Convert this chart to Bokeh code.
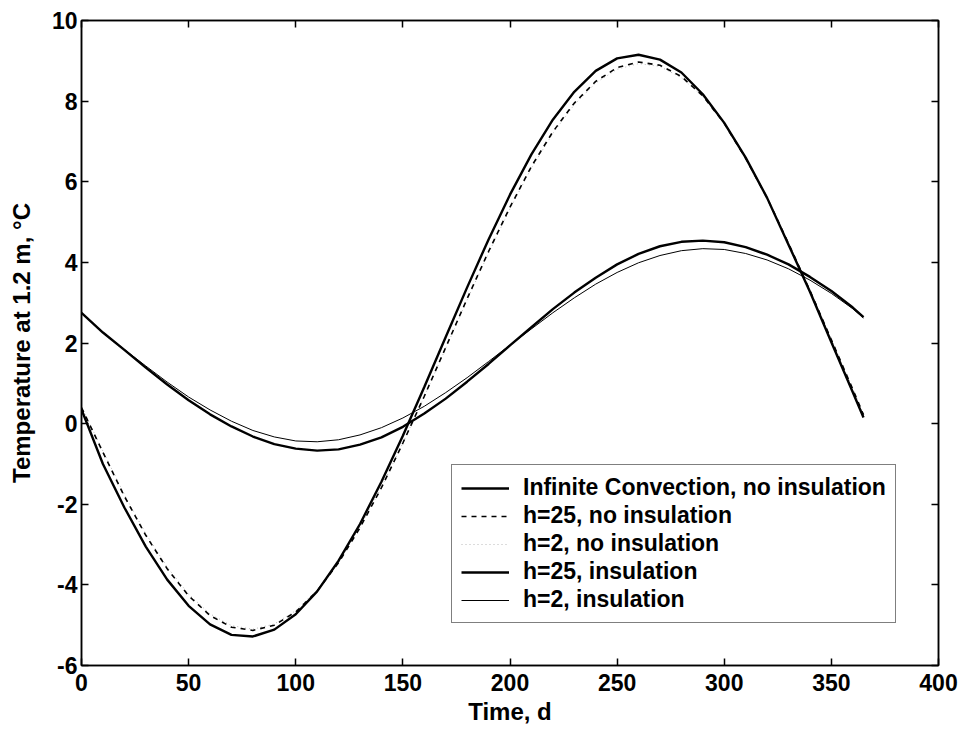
from bokeh.plotting import figure
from bokeh.models import LinearAxis, FixedTicker, Legend, LegendItem, Range1d
from bokeh.embed import file_html
from bokeh.resources import INLINE

# ---- data ----
days = [0, 10, 20, 30, 40, 50, 60, 70, 80, 90, 100, 110, 120, 130, 140, 150,
        160, 170, 180, 190, 200, 210, 220, 230, 240, 250, 260, 270, 280, 290,
        300, 310, 320, 330, 340, 350, 360, 365]

inf_conv_no_ins = [0.35, -1.00, -2.08, -3.05, -3.87, -4.52, -4.98, -5.24, -5.28,
                   -5.11, -4.73, -4.16, -3.40, -2.49, -1.44, -0.30, 0.91, 2.15,
                   3.38, 4.57, 5.68, 6.68, 7.54, 8.23, 8.75, 9.06, 9.15, 9.03,
                   8.71, 8.17, 7.46, 6.60, 5.60, 4.44, 3.27, 2.02, 0.78, 0.15]
h25_no_ins = [0.40, -0.71, -1.80, -2.77, -3.60, -4.27, -4.76, -5.05, -5.13,
              -5.00, -4.67, -4.15, -3.45, -2.58, -1.59, -0.48, 0.68, 1.89,
              3.10, 4.27, 5.37, 6.38, 7.24, 7.95, 8.49, 8.83, 8.97, 8.89,
              8.61, 8.13, 7.45, 6.58, 5.60, 4.47, 3.30, 2.08, 0.85, 0.22]
h2_no_ins = [0.42, -0.68, -1.76, -2.73, -3.56, -4.23, -4.72, -5.01, -5.10,
             -4.97, -4.64, -4.12, -3.43, -2.57, -1.58, -0.48, 0.67, 1.87,
             3.07, 4.23, 5.33, 6.34, 7.20, 7.91, 8.45, 8.79, 8.93, 8.86,
             8.58, 8.11, 7.44, 6.58, 5.60, 4.48, 3.31, 2.10, 0.87, 0.24]
h25_ins = [2.75, 2.26, 1.83, 1.39, 0.97, 0.58, 0.23, -0.07, -0.32, -0.51,
           -0.62, -0.67, -0.64, -0.52, -0.34, -0.08, 0.25, 0.62, 1.04, 1.48,
           1.94, 2.39, 2.84, 3.25, 3.62, 3.95, 4.21, 4.40, 4.51, 4.54, 4.50,
           4.38, 4.19, 3.95, 3.64, 3.29, 2.88, 2.64]
h2_ins = [2.75, 2.26, 1.84, 1.43, 1.03, 0.66, 0.34, 0.06, -0.17, -0.33,
          -0.43, -0.45, -0.40, -0.28, -0.10, 0.14, 0.43, 0.77, 1.14, 1.54,
          1.95, 2.35, 2.75, 3.12, 3.46, 3.75, 3.99, 4.17, 4.29, 4.34, 4.32,
          4.22, 4.06, 3.84, 3.56, 3.23, 2.85, 2.62]

series_labels = ["Infinite Convection, no insulation", "h=25, no insulation",
                 "h=2, no insulation", "h=25, insulation", "h=2, insulation"]

x_ticks = [0, 50, 100, 150, 200, 250, 300, 350, 400]
y_ticks = [-6, -4, -2, 0, 2, 4, 6, 8, 10]
y_tick_labels = ["-6", "-4", "-2", "0", "2", "4", "6", "8", "10"]

FONT = "Liberation Sans"

p = figure(width=963, height=736, output_backend="svg", toolbar_location=None,
           x_range=Range1d(0, 400), y_range=Range1d(-6, 10),
           min_border_left=81, min_border_right=25, min_border_top=20,
           min_border_bottom=71, x_axis_location=None, y_axis_location=None)
p.grid.visible = False
p.outline_line_color = "black"
p.outline_line_width = 1.5
p.background_fill_color = "white"
p.border_fill_color = "white"


def style_axis(ax, labels=True):
    ax.axis_line_color = "black"
    ax.axis_line_width = 1.5
    ax.major_tick_in = 7
    ax.major_tick_out = 0
    ax.major_tick_line_width = 1.5
    ax.minor_tick_line_color = None
    if labels:
        ax.major_label_text_font = FONT
        ax.major_label_text_font_style = "bold"
        ax.major_label_text_font_size = "23px"
        ax.major_label_text_color = "black"
        ax.axis_label_text_font = FONT
        ax.axis_label_text_font_style = "bold"
        ax.axis_label_text_font_size = "24px"
        ax.axis_label_text_color = "black"


xb = LinearAxis(ticker=FixedTicker(ticks=x_ticks), axis_label="Time, d")
style_axis(xb)
xb.major_label_standoff = 8
xb.axis_label_standoff = 4
p.add_layout(xb, "below")

yl = LinearAxis(ticker=FixedTicker(ticks=y_ticks), axis_label="Temperature at 1.2 m, °C")
style_axis(yl)
yl.major_label_overrides = {t: s for t, s in zip(y_ticks, y_tick_labels)}
yl.major_label_standoff = 4
yl.axis_label_standoff = 14
p.add_layout(yl, "left")

xt = LinearAxis(ticker=FixedTicker(ticks=x_ticks))
style_axis(xt, labels=False)
xt.major_label_text_font_size = "1px"
xt.major_label_overrides = {t: "" for t in x_ticks}
p.add_layout(xt, "above")

yr = LinearAxis(ticker=FixedTicker(ticks=y_ticks))
style_axis(yr, labels=False)
yr.major_label_text_font_size = "1px"
yr.major_label_overrides = {t: "" for t in y_ticks}
p.add_layout(yr, "right")

r3 = p.line(days, h2_no_ins, line_color="#b8b8b8", line_width=1, line_dash="1 3")
r5 = p.line(days, h2_ins, line_color="black", line_width=1)
r2 = p.line(days, h25_no_ins, line_color="black", line_width=1.6, line_dash="5 5")
r4 = p.line(days, h25_ins, line_color="black", line_width=2.4)
r1 = p.line(days, inf_conv_no_ins, line_color="black", line_width=2.4)

legend = Legend(items=[LegendItem(label=series_labels[0], renderers=[r1]),
                       LegendItem(label=series_labels[1], renderers=[r2]),
                       LegendItem(label=series_labels[2], renderers=[r3]),
                       LegendItem(label=series_labels[3], renderers=[r4]),
                       LegendItem(label=series_labels[4], renderers=[r5])],
                location=(370, 42))
legend.label_text_font = FONT
legend.label_text_font_style = "bold"
legend.label_text_font_size = "23px"
legend.label_text_color = "black"
legend.label_height = 20
legend.glyph_height = 20
legend.glyph_width = 48
legend.label_standoff = 14
legend.spacing = 1
legend.padding = 9
legend.margin = 0
legend.border_line_color = "black"
legend.border_line_width = 1.2
legend.background_fill_color = "white"
legend.background_fill_alpha = 1
p.add_layout(legend, "center")

open("out.html", "w").write(file_html(p, INLINE))
